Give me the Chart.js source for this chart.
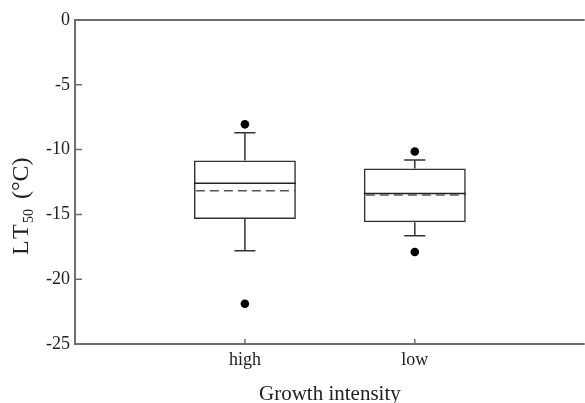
<!DOCTYPE html>
<html>
<head>
<meta charset="utf-8">
<script src="https://cdn.jsdelivr.net/npm/chart.js@4"></script>
<style>
  html, body { margin: 0; padding: 0; background: #fff; overflow: hidden; }
  #wrap { width: 589px; height: 403px; }
</style>
</head>
<body>
<div id="wrap"><canvas id="lt50"></canvas></div>
<script>
// values
const categories = ['high', 'low'];
const q1 = [-15.35, -15.6];
const q3 = [-10.85, -11.45];
const medians = [-12.6, -13.38];
const means = [-13.17, -13.5];
const whiskerLow = [-17.8, -16.65];
const whiskerHigh = [-8.7, -10.8];
const outliers = [[-8.05, -21.9], [-10.15, -17.9]];
const yTicks = [0, -5, -10, -15, -20, -25];

const serif = "'Liberation Serif', 'Times New Roman', serif";
const frameColor = '#6e6e6e';

const boxData = categories.map((c, i) => ({ x: i + 1, y: [q1[i], q3[i]] }));
const outlierData = [];
outliers.forEach((vals, i) => vals.forEach(v => outlierData.push({ x: i + 1, y: v })));

// whiskers, caps, median and mean lines on top of the boxes
const boxExtras = {
    id: 'boxExtras',
    afterDatasetsDraw(chart) {
        const ctx = chart.ctx;
        const x = chart.scales.x;
        const y = chart.scales.y;
        const bars = chart.getDatasetMeta(0).data;
        ctx.save();
        categories.forEach((c, i) => {
            const cx = x.getPixelForValue(i + 1);
            const capHalf = x.getPixelForValue(i + 1.062) - cx;
            const half = bars[i].width / 2;

            ctx.strokeStyle = '#333';
            ctx.lineWidth = 1.5;
            ctx.setLineDash([]);
            ctx.beginPath();
            ctx.moveTo(cx, y.getPixelForValue(q3[i]));
            ctx.lineTo(cx, y.getPixelForValue(whiskerHigh[i]));
            ctx.moveTo(cx - capHalf, y.getPixelForValue(whiskerHigh[i]));
            ctx.lineTo(cx + capHalf, y.getPixelForValue(whiskerHigh[i]));
            ctx.moveTo(cx, y.getPixelForValue(q1[i]));
            ctx.lineTo(cx, y.getPixelForValue(whiskerLow[i]));
            ctx.moveTo(cx - capHalf, y.getPixelForValue(whiskerLow[i]));
            ctx.lineTo(cx + capHalf, y.getPixelForValue(whiskerLow[i]));
            ctx.stroke();

            // median
            ctx.strokeStyle = '#222';
            ctx.beginPath();
            ctx.moveTo(cx - half, y.getPixelForValue(medians[i]));
            ctx.lineTo(cx + half, y.getPixelForValue(medians[i]));
            ctx.stroke();

            // mean
            ctx.strokeStyle = '#555';
            ctx.setLineDash([9, 5]);
            ctx.lineDashOffset = -2;
            ctx.beginPath();
            ctx.moveTo(cx - half, y.getPixelForValue(means[i]));
            ctx.lineTo(cx + half, y.getPixelForValue(means[i]));
            ctx.stroke();
        });
        ctx.restore();
    }
};

// frame with inward ticks and the y title with its subscript
const frame = {
    id: 'frame',
    afterDraw(chart) {
        const ctx = chart.ctx;
        const a = chart.chartArea;
        const x = chart.scales.x;
        const y = chart.scales.y;
        ctx.save();
        ctx.strokeStyle = frameColor;
        ctx.lineWidth = 2;
        ctx.beginPath();
        ctx.moveTo(a.right, a.top);
        ctx.lineTo(a.left, a.top);
        ctx.lineTo(a.left, a.bottom);
        ctx.lineTo(a.right, a.bottom);
        ctx.stroke();

        ctx.lineWidth = 1.5;
        ctx.beginPath();
        y.ticks.forEach((t, i) => {
            const py = y.getPixelForTick(i);
            ctx.moveTo(a.left, py);
            ctx.lineTo(a.left + 7, py);
        });
        x.ticks.forEach((t, i) => {
            const px = x.getPixelForTick(i);
            ctx.moveTo(px, a.bottom);
            ctx.lineTo(px, a.bottom - 5);
        });
        ctx.stroke();

        ctx.translate(28, 255);
        ctx.rotate(-Math.PI / 2);
        ctx.fillStyle = '#222';
        ctx.textBaseline = 'alphabetic';
        ctx.textAlign = 'left';
        ctx.font = '24px ' + serif;
        ctx.fillText('L', 0, 0);
        ctx.fillText('T', 16, 0);
        ctx.font = '14px ' + serif;
        ctx.fillText('50', 32, 5);
        ctx.font = '24px ' + serif;
        ctx.fillText('(°C)', 56, 0);
        ctx.restore();
    }
};

const ctx = document.getElementById('lt50').getContext('2d');
const myChart = new Chart(ctx, {
    type: 'bar',
    data: {
        datasets: [{
            type: 'bar',
            label: 'box',
            data: boxData,
            backgroundColor: 'rgba(0,0,0,0)',
            borderColor: '#333',
            borderWidth: 1.5,
            borderSkipped: false,
            barPercentage: 0.6,
            categoryPercentage: 1
        }, {
            type: 'scatter',
            label: 'outliers',
            data: outlierData,
            backgroundColor: '#000',
            borderWidth: 0,
            pointRadius: 4.3,
            pointHoverRadius: 4.3
        }]
    },
    options: {
        responsive: true,
        maintainAspectRatio: false,
        animation: false,
        layout: { padding: { top: 20, right: 1, left: 0, bottom: 0 } },
        plugins: {
            legend: { display: false },
            tooltip: { enabled: false }
        },
        scales: {
            x: {
                type: 'linear',
                min: 0,
                max: 3,
                offset: false,
                grid: { display: false, drawTicks: false, offset: false },
                border: { display: false },
                afterBuildTicks: s => { s.ticks = categories.map((c, i) => ({ value: i + 1 })); },
                afterFit: s => { s.height = 59; },
                ticks: {
                    padding: 5,
                    color: '#222',
                    font: { family: serif, size: 18 },
                    callback: v => categories[v - 1]
                },
                title: {
                    display: true,
                    text: 'Growth intensity',
                    color: '#222',
                    font: { family: serif, size: 21, lineHeight: 0.8 },
                    padding: 0
                }
            },
            y: {
                min: -25,
                max: 0,
                grid: { display: false, drawTicks: false },
                border: { display: false },
                afterBuildTicks: s => { s.ticks = yTicks.map(v => ({ value: v })); },
                afterFit: s => { s.width = 75; },
                ticks: {
                    padding: 5,
                    color: '#222',
                    font: { family: serif, size: 18 },
                    callback: v => String(v)
                }
            }
        }
    },
    plugins: [boxExtras, frame]
});
</script>
</body>
</html>
